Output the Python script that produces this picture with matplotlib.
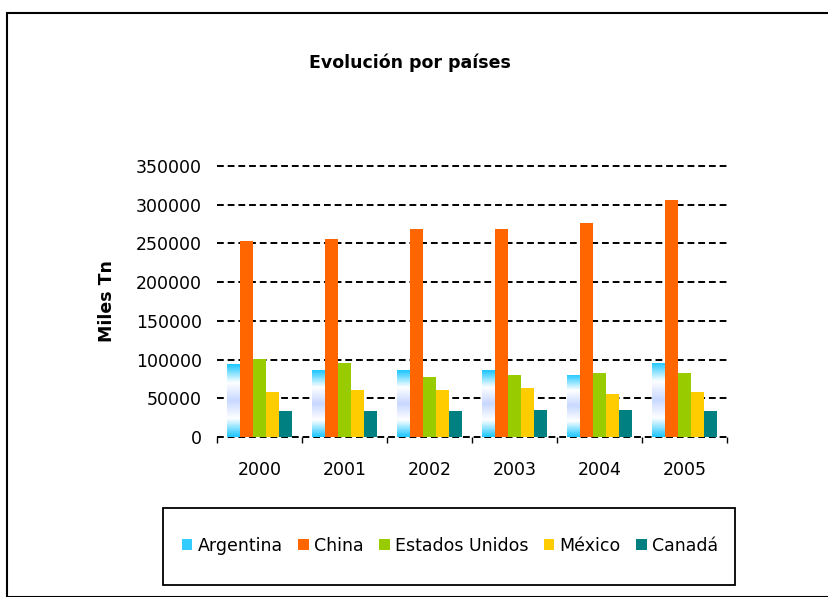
import numpy as np
import matplotlib
matplotlib.use('Agg')
from matplotlib import pyplot as plt
from matplotlib.colors import LinearSegmentedColormap
from matplotlib.patches import Rectangle, Patch

years = ['2000', '2001', '2002', '2003', '2004', '2005']
argentina = [93700, 85900, 85900, 85900, 80700, 95900]
china = [253400, 256000, 268600, 268600, 276300, 306100]
estados_unidos = [100600, 95900, 77700, 80700, 83300, 83300]
mexico = [58700, 61300, 61300, 63000, 56100, 58700]
canada = [33700, 33700, 33700, 35400, 35400, 33200]

names = ['Argentina', 'China', 'Estados Unidos', 'México', 'Canadá']
colors = ['#33CCFF', '#FF6600', '#99CC00', '#FFCC00', '#008080']
series = [argentina, china, estados_unidos, mexico, canada]

plt.rcParams['font.family'] = ['DejaVu Sans']

fig = plt.figure(figsize=(8.29, 5.97), dpi=100)
W, H = 829, 597

# outer chart border
fig.patches.append(Rectangle((7 / W, 0), 1, 1 - 13 / H, transform=fig.transFigure,
                             fill=False, edgecolor='black', linewidth=1.5))
# legend frame
fig.patches.append(Rectangle((163 / W, 1 - 585 / H), 572 / W, 77 / H, transform=fig.transFigure,
                             fill=False, edgecolor='black', linewidth=1.3))

ax = fig.add_axes([217 / W, (H - 437) / H, 510 / W, 271 / H])

x = np.arange(len(years))
bw = 0.153
grad = LinearSegmentedColormap.from_list('arg', ['#22C8FF', '#FFFFFF', '#C8D8FF', '#FFFFFF', '#22C8FF'])

for i, (vals, c) in enumerate(zip(series, colors)):
    pos = x + (i - 2) * bw
    bars = ax.bar(pos, vals, bw, color=c, edgecolor='none', zorder=3)
    if i == 0:
        for b in bars:
            b.set_facecolor('none')
            img = ax.imshow(np.linspace(1, 0, 50).reshape(-1, 1), cmap=grad, aspect='auto',
                            extent=[b.get_x(), b.get_x() + b.get_width(), 0, b.get_height()],
                            zorder=3)
            img.set_clip_path(b)

ax.set_xlim(-0.5, len(years) - 0.5)
ax.set_ylim(0, 350000)
ax.set_yticks(np.arange(0, 350001, 50000))
ax.yaxis.grid(True, color='black', linestyle=(0, (3.5, 2)), linewidth=1.4, zorder=0)
for gl in ax.get_ygridlines():
    gl.set_clip_on(False)
ax.set_axisbelow(True)
for s in ax.spines.values():
    s.set_visible(False)
ax.tick_params(axis='y', length=0, labelsize=12.5, pad=11)
ax.set_xticks(x)
ax.set_xticklabels(years)
ax.tick_params(axis='x', length=0, labelsize=12.5, pad=17)
ax.set_xticks(np.arange(-0.5, len(years)), minor=True)
ax.tick_params(axis='x', which='minor', length=4, width=1, direction='out')

ax.set_ylabel('Miles Tn', fontsize=12.5, fontweight='bold', labelpad=14)
fig.text(410 / W, 1 - 63 / H, 'Evolución por países', ha='center', va='center',
         fontsize=12.5, fontweight='bold')

handles = [Patch(facecolor=c, edgecolor='none') for c in colors]
leg = fig.legend(handles, names, loc='center', bbox_to_anchor=(450 / W, 1 - 546 / H),
                 ncol=5, fontsize=12.5, frameon=False,
                 handlelength=0.6, handleheight=0.6, handletextpad=0.3, columnspacing=0.9,
                 borderpad=0, borderaxespad=0)

fig.savefig('out.png', dpi=100)
